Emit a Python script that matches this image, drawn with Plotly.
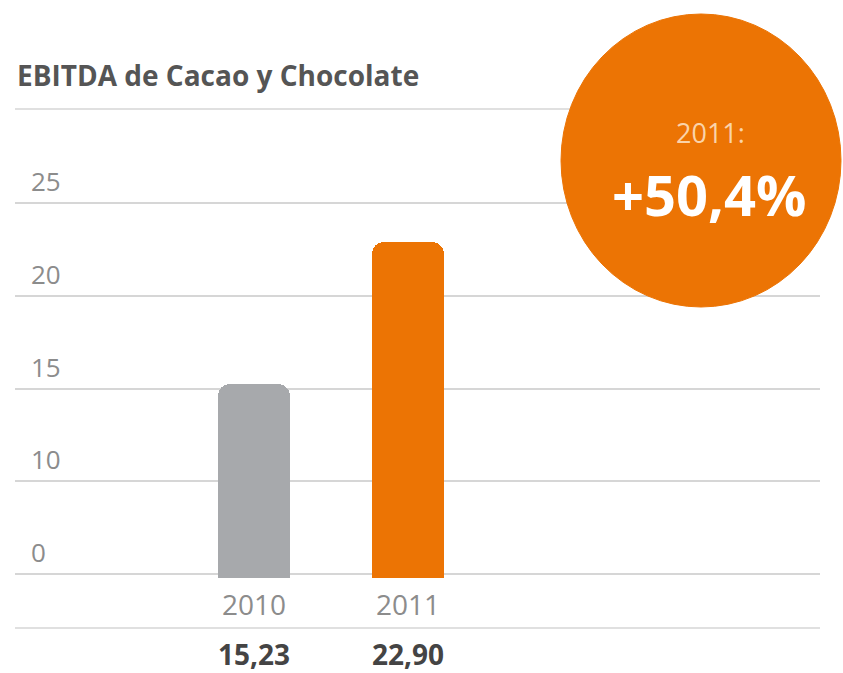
import plotly.graph_objects as go

# ---- data ----
years = ["2010", "2011"]
ebitda = [15.23, 22.90]
value_labels = ["15,23", "22,90"]
bar_colors = ["#A7A9AC", "#EC7404"]
y_tick_pos = [5, 10, 15, 20, 25]          # axis is broken: the "0" line sits one step below 10
y_tick_text = ["0", "10", "15", "20", "25"]
title_text = "EBITDA de Cacao y Chocolate"
badge_year = "2011:"
badge_value = "+50,4%"

W, H = 843, 673
ML, MR, MT, MB = 15, 23, 109, 95
PW, PH = W - ML - MR, H - MT - MB

def px_x(px):
    return (px - ML) / PW

def px_y(py):
    return (H - MB - py) / PH

FONT = "Open Sans"
xpos = list(range(len(years)))

fig = go.Figure()
fig.add_trace(go.Bar(
    x=xpos, y=ebitda, width=0.47,
    marker=dict(color=bar_colors, cornerradius=12, line=dict(width=0)),
    hoverinfo="skip", showlegend=False,
))

# y tick labels above gridlines
for v, t in zip(y_tick_pos, y_tick_text):
    fig.add_annotation(x=px_x(29), y=v, xref="paper", yref="y", text=t,
                       showarrow=False, xanchor="left", yanchor="middle", yshift=22,
                       font=dict(family=FONT, size=26, color="#8C8C8C"))

# bold value labels under the years
for xp, lab in zip(xpos, value_labels):
    fig.add_annotation(x=xp, y=px_y(654), xref="x", yref="paper", text="<b>%s</b>" % lab,
                       showarrow=False, xanchor="center", yanchor="middle", borderpad=0,
                       font=dict(family=FONT, size=28, color="#444444"))

# lines: under title and under year labels
for py in (109, 628):
    fig.add_shape(type="line", xref="paper", yref="paper", x0=0, x1=1, y0=px_y(py), y1=px_y(py),
                  line=dict(color="#D6D6D6", width=1.5), layer="below")

# badge circle
fig.add_shape(type="circle", xref="paper", yref="paper",
              x0=px_x(561), x1=px_x(841), y0=px_y(307), y1=px_y(14),
              fillcolor="#EC7404", line=dict(color="#EC7404", width=1), layer="above")
fig.add_annotation(x=px_x(710), y=px_y(132), xref="paper", yref="paper", text=badge_year,
                   showarrow=False, xanchor="center", yanchor="middle",
                   font=dict(family=FONT, size=27, color="#FAD3AA"))
fig.add_annotation(x=px_x(709), y=px_y(194), xref="paper", yref="paper", text="<b>%s</b>" % badge_value,
                   showarrow=False, xanchor="center", yanchor="middle",
                   font=dict(family=FONT, size=56, color="#FFFFFF"))

fig.update_layout(
    width=W, height=H,
    margin=dict(l=ML, r=MR, t=MT, b=MB),
    paper_bgcolor="white", plot_bgcolor="white",
    title=dict(text="<b>%s</b>" % title_text, xref="container", yref="container",
               x=17 / W, y=1 - 76 / H, xanchor="left", yanchor="middle",
               font=dict(family=FONT, size=28, color="#555555")),
    xaxis=dict(range=[-1.552, 3.675], tickvals=xpos, ticktext=years,
               showgrid=False, zeroline=False, showline=False, ticks="", ticklabelstandoff=8,
               tickfont=dict(family=FONT, size=28, color="#8C8C8C")),
    yaxis=dict(range=[4.784, 30.07], tickvals=y_tick_pos, showticklabels=False,
               showgrid=True, gridcolor="#D6D6D6", gridwidth=1.5, zeroline=False, showline=False),
    bargap=0,
)

fig.write_html("out.html")
